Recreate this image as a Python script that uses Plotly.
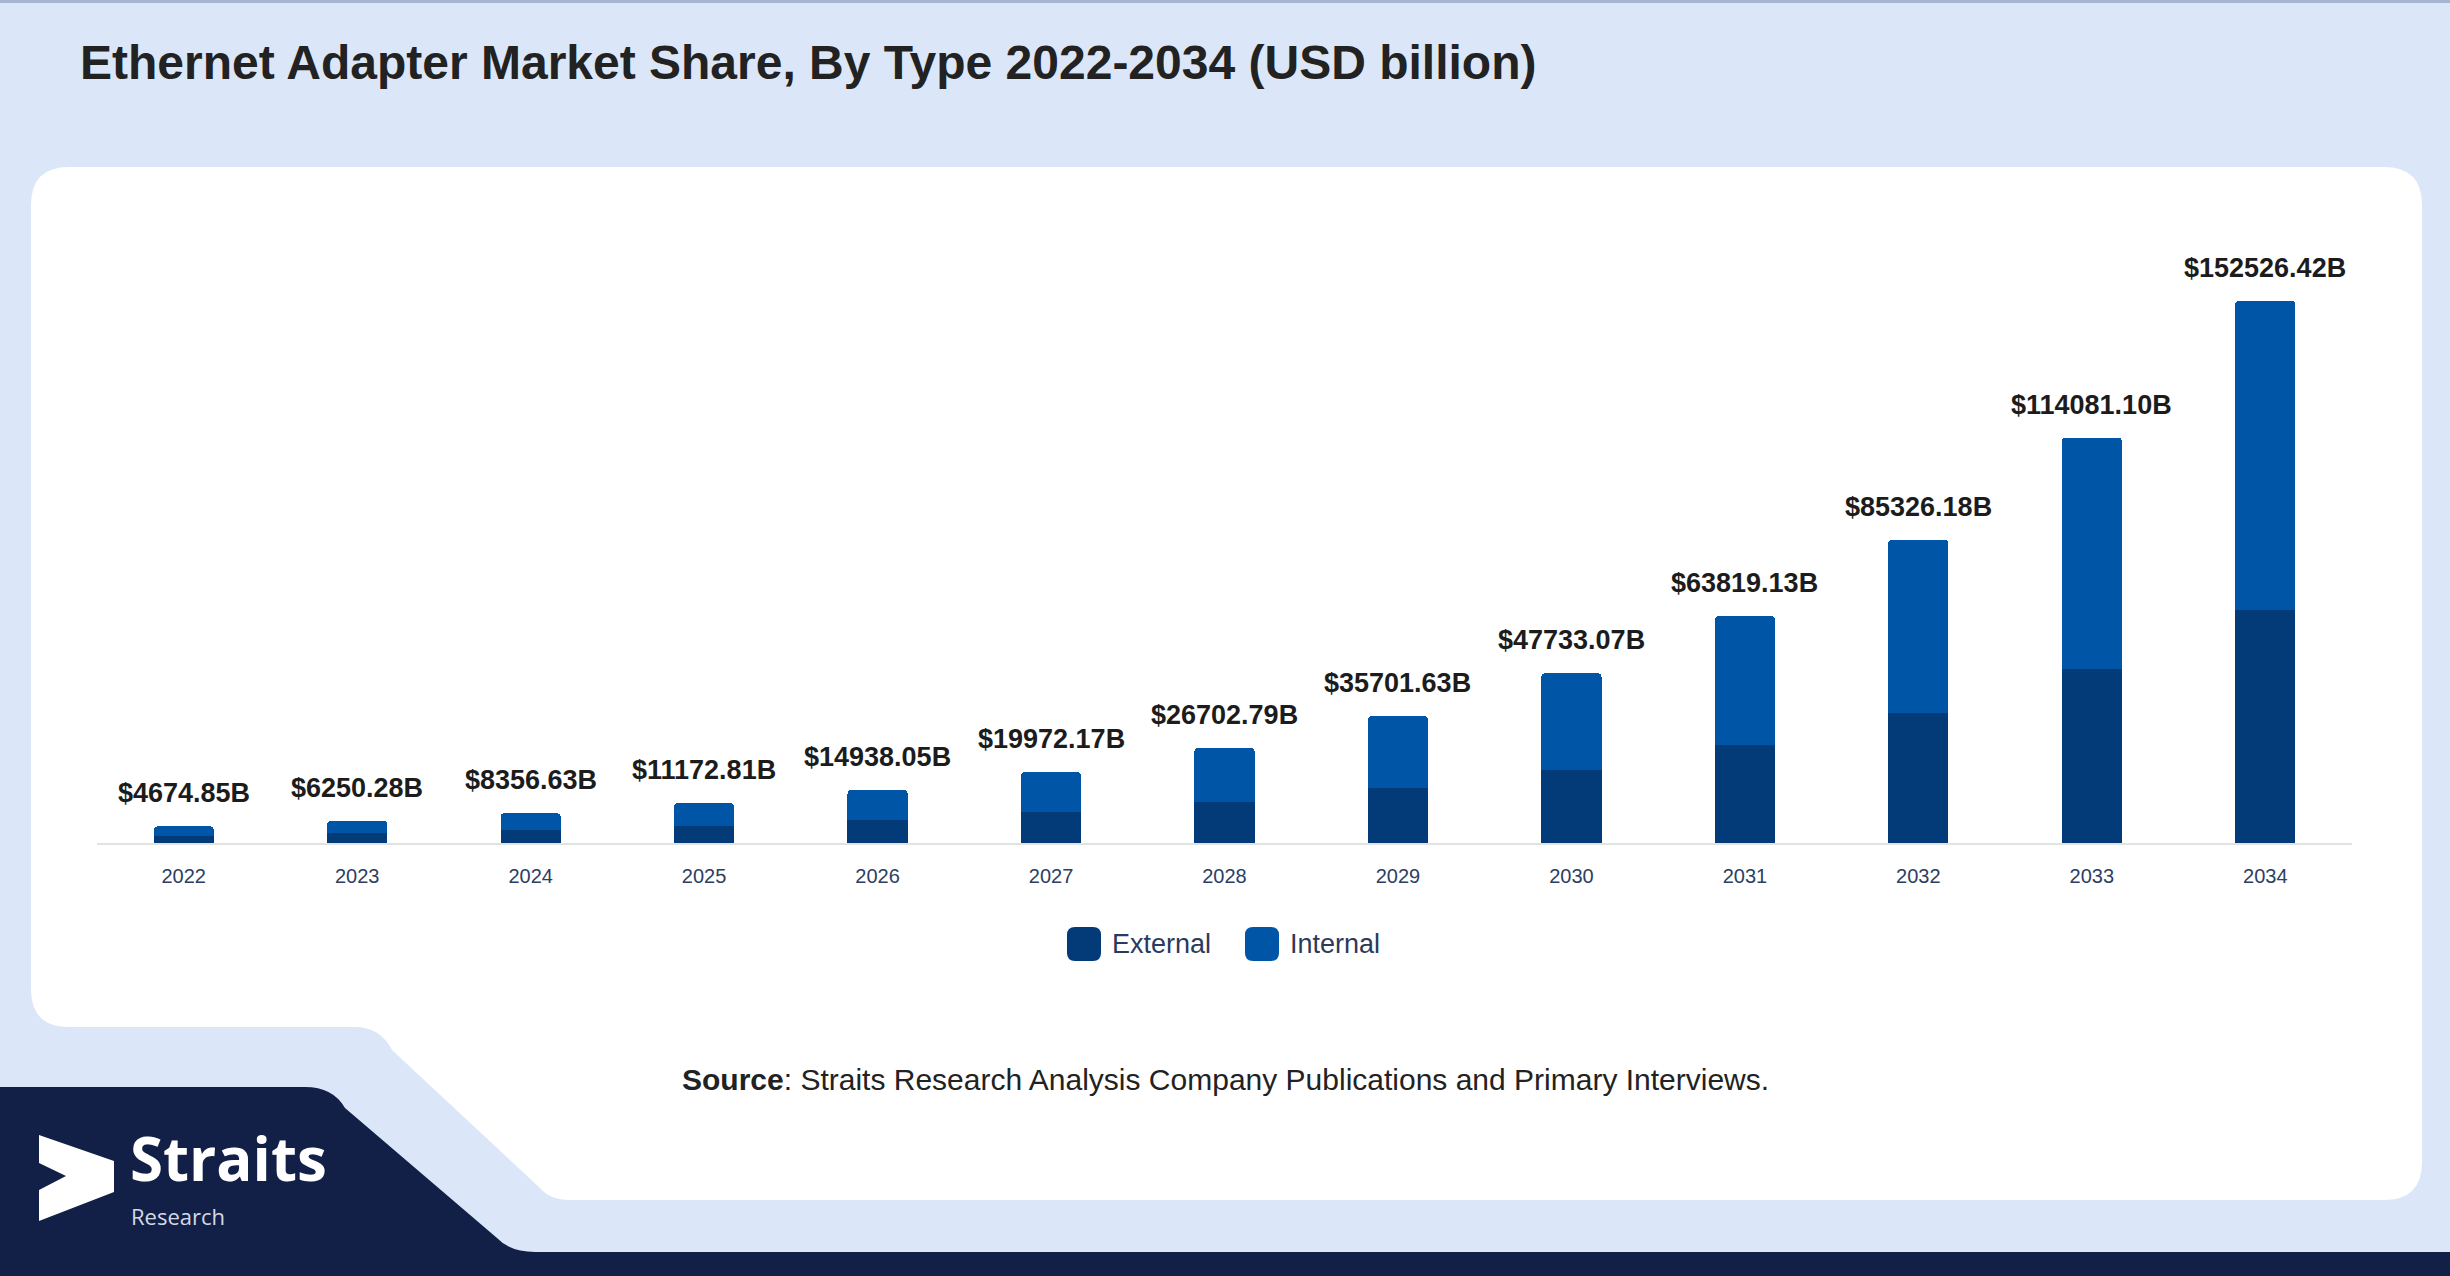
import plotly.graph_objects as go

# data (USD billion)
years = ["2022", "2023", "2024", "2025", "2026", "2027", "2028",
         "2029", "2030", "2031", "2032", "2033", "2034"]
totals = [4674.85, 6250.28, 8356.63, 11172.81, 14938.05, 19972.17, 26702.79,
          35701.63, 47733.07, 63819.13, 85326.18, 114081.10, 152526.42]
external = [2010, 2690, 3590, 4800, 6420, 8590, 11480,
            15350, 20530, 27440, 36690, 49060, 65590]
internal = [2664.85, 3560.28, 4766.63, 6372.81, 8518.05, 11382.17, 15222.79,
            20351.63, 27203.07, 36379.13, 48636.18, 65021.10, 86936.42]
series_names = ["External", "Internal"]
series_colors = ["#033b79", "#0055a7"]

W, H = 2450, 1276
BG = "#dbe7f8"
NAVY = "#122048"
FONT = "Liberation Sans, Arial, sans-serif"


def fx(x):
    return x / W


def fy(y):
    return 1 - y / H


def path(points):
    # points are (cmd, x, y, ...) in pixels -> paper coords
    out = []
    for p in points:
        cmd = p[0]
        nums = []
        for i in range(1, len(p), 2):
            nums.append(f"{fx(p[i]):.5f},{fy(p[i + 1]):.5f}")
        out.append(cmd + " " + " ".join(nums))
    return " ".join(out) + " Z"


fig = go.Figure()

for name, vals, col in zip(series_names, [external, internal], series_colors):
    fig.add_trace(go.Bar(x=years, y=vals, name=name, marker_color=col,
                         marker_line_width=0, showlegend=False))

shapes = []
# top border
shapes.append(dict(type="rect", xref="paper", yref="paper", x0=0, x1=1,
                   y0=fy(3), y1=1, fillcolor="#a7b5d3", line_width=0, layer="below"))
# white card with cut corner bottom-left
R = 38
card = path([
    ("M", 31 + R, 167),
    ("L", 2422 - R, 167),
    ("Q", 2422, 167, 2422, 167 + R),
    ("L", 2422, 1200 - R),
    ("Q", 2422, 1200, 2422 - R, 1200),
    ("L", 570, 1200),
    ("Q", 550, 1200, 540, 1188),
    ("L", 392, 1050),
    ("Q", 380, 1027, 355, 1027),
    ("L", 31 + R, 1027),
    ("Q", 31, 1027, 31, 1027 - R),
    ("L", 31, 167 + R),
    ("Q", 31, 167, 31 + R, 167),
])
shapes.append(dict(type="path", xref="paper", yref="paper", path=card,
                   fillcolor="white", line_width=0, layer="below"))
# navy footer
navy = path([
    ("M", 0, 1087),
    ("L", 305, 1087),
    ("Q", 333, 1087, 345, 1108),
    ("L", 497, 1238),
    ("Q", 510, 1252, 535, 1252),
    ("L", W, 1252),
    ("L", W, H),
    ("L", 0, H),
])
shapes.append(dict(type="path", xref="paper", yref="paper", path=navy,
                   fillcolor=NAVY, line_width=0, layer="below"))
# logo mark
logo = path([
    ("M", 39, 1135),
    ("L", 114, 1161),
    ("L", 114, 1192),
    ("L", 39, 1221),
    ("L", 39, 1190),
    ("L", 66, 1176),
    ("L", 39, 1163),
])
shapes.append(dict(type="path", xref="paper", yref="paper", path=logo,
                   fillcolor="white", line_width=0, layer="below"))

# custom legend swatches
leg_x = [1067, 1245]
leg_y = 927
S, r = 34, 8
for lx, col in zip(leg_x, series_colors):
    sw = path([
        ("M", lx + r, leg_y),
        ("L", lx + S - r, leg_y),
        ("Q", lx + S, leg_y, lx + S, leg_y + r),
        ("L", lx + S, leg_y + S - r),
        ("Q", lx + S, leg_y + S, lx + S - r, leg_y + S),
        ("L", lx + r, leg_y + S),
        ("Q", lx, leg_y + S, lx, leg_y + S - r),
        ("L", lx, leg_y + r),
        ("Q", lx, leg_y, lx + r, leg_y),
    ])
    shapes.append(dict(type="path", xref="paper", yref="paper", path=sw,
                       fillcolor=col, line_width=0))

annotations = []
# total labels; x given as category index so "2022" is not read as a number
for i, t in enumerate(totals):
    annotations.append(dict(x=i, y=t, xref="x", yref="y", text=f"${t:.2f}B",
                            showarrow=False, yanchor="bottom", yshift=16,
                            font=dict(family=FONT, size=27, color="#1c1c1c", weight="bold")))

for lx, name in zip(leg_x, series_names):
    annotations.append(dict(x=fx(lx + S + 9), y=fy(leg_y + S / 2), xref="paper", yref="paper",
                            text=name, showarrow=False, xanchor="left", yanchor="middle",
                            font=dict(family=FONT, size=27, color="#2c3a5c")))

annotations.append(dict(x=fx(78), y=fy(63), xref="paper", yref="paper",
                        text="<b>Ethernet Adapter Market Share, By Type 2022-2034 (USD billion)</b>",
                        showarrow=False, xanchor="left", yanchor="middle",
                        font=dict(family=FONT, size=48, color="#222222")))
annotations.append(dict(x=0.5, y=fy(1079), xref="paper", yref="paper",
                        text="<b>Source</b>: Straits Research Analysis Company Publications and Primary Interviews.",
                        showarrow=False, xanchor="center", yanchor="middle",
                        font=dict(family=FONT, size=30, color="#222222")))
annotations.append(dict(x=fx(128), y=fy(1158), xref="paper", yref="paper", text="<b>Straits</b>",
                        showarrow=False, xanchor="left", yanchor="middle",
                        font=dict(family="Open Sans, sans-serif", size=60, color="white")))
annotations.append(dict(x=fx(129), y=fy(1216), xref="paper", yref="paper", text="Research",
                        showarrow=False, xanchor="left", yanchor="middle",
                        font=dict(family="Open Sans, sans-serif", size=22, color="#d4d9e4")))

fig.update_layout(
    width=W, height=H,
    margin=dict(l=0, r=0, t=0, b=0),
    paper_bgcolor=BG,
    plot_bgcolor="rgba(0,0,0,0)",
    barmode="stack",
    bargap=0.653,
    barcornerradius=4,
    showlegend=False,
    shapes=shapes,
    annotations=annotations,
    xaxis=dict(type="category", domain=[fx(97), fx(2352)], range=[-0.5, len(years) - 0.5],
               showline=True, linecolor="#e2e2e2", linewidth=2, automargin=False,
               showgrid=False, ticks="", ticklabelstandoff=14,
               tickfont=dict(family=FONT, size=20, color="#2d3e63"), fixedrange=True),
    yaxis=dict(domain=[fy(843), fy(150)], range=[0, 195000], visible=False,
               showgrid=False, zeroline=False, fixedrange=True, automargin=False),
)

fig.write_html("out.html", config={"displayModeBar": False},
               post_script="document.body.style.margin='0';")
